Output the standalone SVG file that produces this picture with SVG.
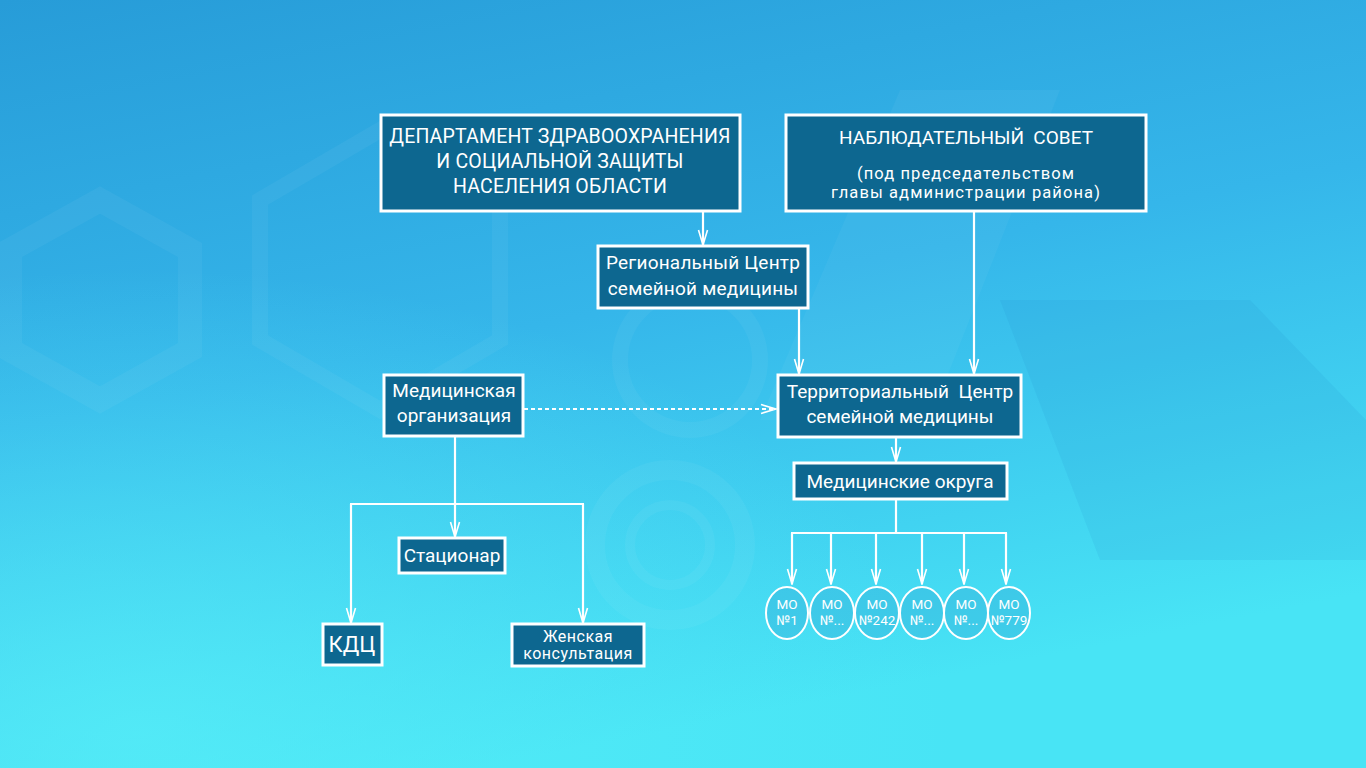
<svg xmlns="http://www.w3.org/2000/svg" width="1366" height="768" viewBox="0 0 1366 768">
<defs>
<linearGradient id="bg" x1="0" y1="0" x2="0.35" y2="1">
<stop offset="0" stop-color="#279cd8"/>
<stop offset="0.5" stop-color="#35b6ea"/>
<stop offset="1" stop-color="#48e4f5"/>
</linearGradient>
<radialGradient id="glow" cx="0.1" cy="0.95" r="0.6">
<stop offset="0" stop-color="#58f0f8" stop-opacity="0.7"/>
<stop offset="1" stop-color="#58f0f8" stop-opacity="0"/>
</radialGradient>
<marker id="arr" viewBox="0 0 17 12" refX="16" refY="6" markerWidth="17" markerHeight="12" markerUnits="userSpaceOnUse" orient="auto">
<polyline points="1,1.5 16,6 1,10.5" fill="none" stroke="#ffffff" stroke-width="1.6"/>
</marker>
<style>
.box{fill:#0d6790;stroke:#ffffff;stroke-width:3}
.t{font-family:Roboto,"Open Sans","Liberation Sans",sans-serif;fill:#ffffff;text-anchor:middle}
.c{stroke:#ffffff;stroke-width:2.2;fill:none}
.mo{fill:#2f9fd0;fill-opacity:0.3;stroke:#ffffff;stroke-width:2}
.deco{fill:none;stroke:#ffffff;stroke-opacity:0.045}
</style>
</defs>
<rect width="1366" height="768" fill="url(#bg)"/>
<rect width="1366" height="768" fill="url(#glow)"/>
<g id="background-decor">
<polygon points="10,250 100,200 190,250 190,350 100,400 10,350" class="deco" stroke-width="24"/>
<polygon points="260,200 380,130 500,200 500,340 380,410 260,340" class="deco" stroke-width="16"/>
<circle cx="670" cy="545" r="75" class="deco" stroke-width="20"/>
<circle cx="670" cy="545" r="40" class="deco" stroke-width="10"/>
<circle cx="690" cy="360" r="70" class="deco" stroke-width="16"/>
<path d="M760,420 L900,90 L1060,90 L930,420 Z" fill="#ffffff" fill-opacity="0.04"/>
<path d="M1000,300 L1250,300 L1366,420 L1366,560 L1100,560 Z" fill="#1a7fc0" fill-opacity="0.1"/>
</g>
<g id="connectors">
<line class="c" x1="703" y1="212" x2="703" y2="245" marker-end="url(#arr)"/>
<line class="c" x1="799" y1="309" x2="799" y2="374" marker-end="url(#arr)"/>
<line class="c" x1="974" y1="212" x2="974" y2="374" marker-end="url(#arr)"/>
<line class="c" x1="524" y1="409" x2="776" y2="409" stroke-dasharray="4,3" marker-end="url(#arr)"/>
<line class="c" x1="896" y1="438" x2="896" y2="462" marker-end="url(#arr)"/>
<line class="c" x1="455" y1="437" x2="455" y2="504"/>
<line class="c" x1="350" y1="504" x2="584" y2="504"/>
<line class="c" x1="455" y1="504" x2="455" y2="537" marker-end="url(#arr)"/>
<line class="c" x1="351" y1="504" x2="351" y2="623" marker-end="url(#arr)"/>
<line class="c" x1="583" y1="504" x2="583" y2="623" marker-end="url(#arr)"/>
<line class="c" x1="896" y1="500" x2="896" y2="533"/>
<line class="c" x1="791" y1="533" x2="1007" y2="533"/>
<line class="c" x1="792" y1="533" x2="792" y2="584" marker-end="url(#arr)"/>
<line class="c" x1="831" y1="533" x2="831" y2="584" marker-end="url(#arr)"/>
<line class="c" x1="876" y1="533" x2="876" y2="584" marker-end="url(#arr)"/>
<line class="c" x1="922" y1="533" x2="922" y2="584" marker-end="url(#arr)"/>
<line class="c" x1="964" y1="533" x2="964" y2="584" marker-end="url(#arr)"/>
<line class="c" x1="1006" y1="533" x2="1006" y2="584" marker-end="url(#arr)"/>
</g>
<g id="dept">
<rect class="box" x="381" y="115" width="359" height="96"/>
<text class="t" font-size="19.5" letter-spacing="0.2"><tspan x="560" y="143">ДЕПАРТАМЕНТ ЗДРАВООХРАНЕНИЯ</tspan><tspan x="560" y="168">И СОЦИАЛЬНОЙ ЗАЩИТЫ</tspan><tspan x="560" y="193">НАСЕЛЕНИЯ ОБЛАСТИ</tspan></text>
</g>
<g id="council">
<rect class="box" x="786" y="115" width="360" height="96"/>
<text class="t" font-size="19" x="966" y="144" xml:space="preserve">НАБЛЮДАТЕЛЬНЫЙ  СОВЕТ</text>
<text class="t" font-size="16.5" letter-spacing="1.1"><tspan x="966" y="179">(под председательством</tspan><tspan x="966" y="198">главы администрации района)</tspan></text>
</g>
<g id="regional">
<rect class="box" x="598" y="246" width="210" height="62"/>
<text class="t" font-size="19" letter-spacing="0.2"><tspan x="703" y="269">Региональный Центр</tspan><tspan x="703" y="295">семейной медицины</tspan></text>
</g>
<g id="medorg">
<rect class="box" x="384" y="375" width="139" height="61"/>
<text class="t" font-size="19"><tspan x="454" y="397">Медицинская</tspan><tspan x="454" y="422">организация</tspan></text>
</g>
<g id="territorial">
<rect class="box" x="778" y="375" width="243" height="62"/>
<text class="t" font-size="19" xml:space="preserve"><tspan x="900" y="398">Территориальный  Центр</tspan><tspan x="900" y="423">семейной медицины</tspan></text>
</g>
<g id="okruga">
<rect class="box" x="794" y="463" width="213" height="36"/>
<text class="t" font-size="19" x="900" y="488">Медицинские округа</text>
</g>
<g id="stacionar">
<rect class="box" x="399" y="538" width="106" height="35"/>
<text class="t" font-size="19" x="452" y="562">Стационар</text>
</g>
<g id="kdc">
<rect class="box" x="323" y="624" width="59" height="41"/>
<text class="t" font-size="22" x="352" y="652">КДЦ</text>
</g>
<g id="zhenskaya">
<rect class="box" x="512" y="624" width="132" height="42"/>
<text class="t" font-size="16" letter-spacing="0.5"><tspan x="578" y="642">Женская</tspan><tspan x="578" y="659">консультация</tspan></text>
</g>
<g id="mo1"><ellipse class="mo" cx="787" cy="613" rx="21" ry="26"/><text class="t" font-size="13.5"><tspan x="787" y="609">МО</tspan><tspan x="787" y="625">№1</tspan></text></g>
<g id="mo2"><ellipse class="mo" cx="832" cy="613" rx="22" ry="26"/><text class="t" font-size="13.5"><tspan x="832" y="609">МО</tspan><tspan x="832" y="625">№...</tspan></text></g>
<g id="mo3"><ellipse class="mo" cx="877" cy="613" rx="22" ry="26"/><text class="t" font-size="13.5"><tspan x="877" y="609">МО</tspan><tspan x="877" y="625">№242</tspan></text></g>
<g id="mo4"><ellipse class="mo" cx="922" cy="613" rx="22" ry="26"/><text class="t" font-size="13.5"><tspan x="922" y="609">МО</tspan><tspan x="922" y="625">№...</tspan></text></g>
<g id="mo5"><ellipse class="mo" cx="966" cy="613" rx="22" ry="26"/><text class="t" font-size="13.5"><tspan x="966" y="609">МО</tspan><tspan x="966" y="625">№...</tspan></text></g>
<g id="mo6"><ellipse class="mo" cx="1009" cy="613" rx="21" ry="26"/><text class="t" font-size="13.5"><tspan x="1009" y="609">МО</tspan><tspan x="1009" y="625">№779</tspan></text></g>
</svg>
